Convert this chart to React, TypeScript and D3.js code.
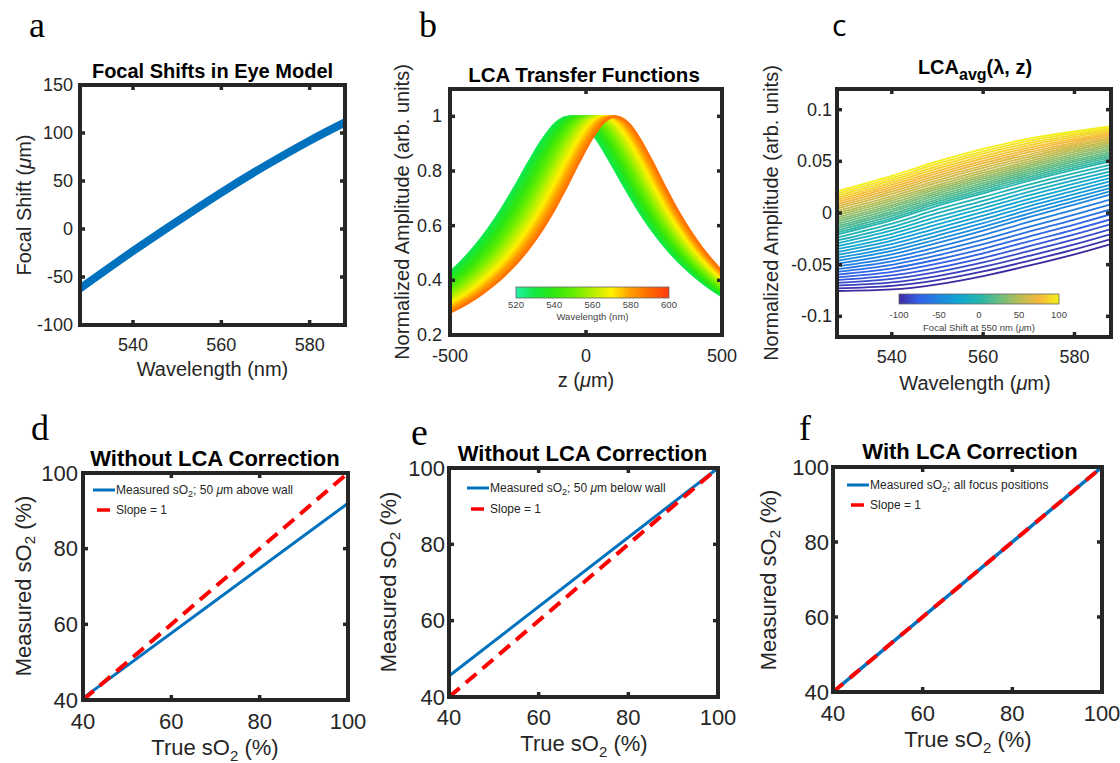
import React from 'react';
import * as d3 from 'd3';

const SANS = "'Liberation Sans', Arial, Helvetica, sans-serif";
const SERIF = "'Liberation Serif', 'Times New Roman', serif";
const INK = '#262626';

// ---------------- data ----------------
// (a) focal shift in eye model
const focalWavelengths = [528, 540, 550, 560, 570, 580, 588];
const focalShifts = [-62, -23, 8, 38, 66, 92, 111];
const aXTicks = [540, 560, 580];
const aYTicks = [-100, -50, 0, 50, 100, 150];

// (b) LCA transfer functions
const bCurveWavelengths = d3.range(528, 589, 1);
const bRefWavelength = 528;
const bProfileDistance = [0, 50, 100, 150, 200, 250, 300, 350, 400, 450, 500, 550, 600, 650, 700, 750, 800];
const bProfileAmplitude = [1, 0.977, 0.915, 0.833, 0.745, 0.661, 0.587, 0.523, 0.468, 0.422, 0.382, 0.348, 0.319, 0.294, 0.272, 0.252, 0.235];
const bXTicks = [-500, 0, 500];
const bYTicks = [0.2, 0.4, 0.6, 0.8, 1];
const bColorStops = [520, 530, 540, 550, 560, 570, 580, 590, 600];
const bColorValues = ['#22f0a8', '#12e840', '#30e610', '#66ee00', '#b4f000', '#fff000', '#ff9c00', '#ff6800', '#ff3a10'];
const bColorbarTicks = [520, 540, 560, 580, 600];

// (c) LCA_avg(lambda, z)
const cWavelengths = [528, 540, 550, 560, 570, 580, 588];
const cKeyShifts = [-100, -50, 0, 50, 100];
const cCurveMinus100 = [-0.0755, -0.074, -0.069, -0.061, -0.051, -0.04, -0.03];
const cCurveMinus50 = [-0.049, -0.04, -0.029, -0.017, -0.004, 0.008, 0.018];
const cCurveZero = [-0.021, -0.007, 0.007, 0.019, 0.031, 0.042, 0.05];
const cCurvePlus50 = [0.0, 0.014, 0.027, 0.039, 0.05, 0.061, 0.068];
const cCurvePlus100 = [0.021, 0.036, 0.05, 0.062, 0.072, 0.079, 0.084];
const cCurveShifts = d3.range(-100, 101, 5);
const cXTicks = [540, 560, 580];
const cYTicks = [-0.1, -0.05, 0, 0.05, 0.1];
const cColorStops = [-100, -75, -50, -25, 0, 25, 50, 75, 100];
const cColorValues = ['#3d2aa0', '#3462e8', '#1f86e0', '#12a7d0', '#26b5ad', '#6abd80', '#b8bd55', '#f5b93c', '#f3f01a'];
const cColorbarTicks = [-100, -50, 0, 50, 100];

// (d,e,f) sO2
const sO2True = [40, 100];
const dMeasured = [40.5, 92];
const eMeasured = [45.5, 100];
const fMeasured = [40, 100];
const slopeOne = [40, 100];
const sTicks = [40, 60, 80, 100];

// ---------------- helpers ----------------
type Box = { x0: number; x1: number; y0: number; y1: number };

function Frame(props: {
  p: Box; xs: any; ys: any; xTicks: number[]; yTicks: number[];
  fs: number; xTickY: number; yGap: number; tickLen: number;
}) {
  const { p, xs, ys, xTicks, yTicks, fs, xTickY, yGap, tickLen } = props;
  return (
    <g>
      {xTicks.map((t) => (
        <g key={'x' + t}>
          <line x1={xs(t)} x2={xs(t)} y1={p.y1} y2={p.y1 - tickLen} stroke={INK} strokeWidth={3.5} />
          <line x1={xs(t)} x2={xs(t)} y1={p.y0} y2={p.y0 + tickLen} stroke={INK} strokeWidth={3.5} />
          <text x={xs(t)} y={xTickY} textAnchor="middle" dominantBaseline="central" fontSize={fs} fill={INK} fontFamily={SANS}>{String(t)}</text>
        </g>
      ))}
      {yTicks.map((t) => (
        <g key={'y' + t}>
          <line x1={p.x0} x2={p.x0 + tickLen} y1={ys(t)} y2={ys(t)} stroke={INK} strokeWidth={3.5} />
          <line x1={p.x1} x2={p.x1 - tickLen} y1={ys(t)} y2={ys(t)} stroke={INK} strokeWidth={3.5} />
          <text x={p.x0 - yGap} y={ys(t)} textAnchor="end" dominantBaseline="central" fontSize={fs} fill={INK} fontFamily={SANS}>{String(t)}</text>
        </g>
      ))}
      <rect x={p.x0} y={p.y0} width={p.x1 - p.x0} height={p.y1 - p.y0} fill="none" stroke={INK} strokeWidth={4} />
    </g>
  );
}

function ClipRect({ id, p }: { id: string; p: Box }) {
  return (
    <clipPath id={id}>
      <rect x={p.x0} y={p.y0} width={p.x1 - p.x0} height={p.y1 - p.y0} />
    </clipPath>
  );
}

// ---------------- layout ----------------
const PA: Box = { x0: 80, x1: 345, y0: 85, y1: 325 };
const PB: Box = { x0: 450, x1: 722, y0: 89, y1: 335 };
const PC: Box = { x0: 837, x1: 1111, y0: 89, y1: 337 };
const PD: Box = { x0: 83, x1: 348, y0: 473, y1: 700 };
const PE: Box = { x0: 449, x1: 718, y0: 468, y1: 697 };
const PF: Box = { x0: 833, x1: 1102, y0: 467, y1: 692 };

export default function App() {
  // ---- a ----
  const aX = d3.scaleLinear().domain([528, 588]).range([PA.x0, PA.x1]);
  const aY = d3.scaleLinear().domain([-100, 150]).range([PA.y1, PA.y0]);
  const aLine = d3.line<number>().x((_, i) => aX(focalWavelengths[i])).y((v) => aY(v)).curve(d3.curveNatural);
  const aPath = aLine(focalShifts) || '';

  // ---- b ----
  const bX = d3.scaleLinear().domain([-500, 500]).range([PB.x0, PB.x1]);
  const bY = d3.scaleLinear().domain([0.2, 1.1]).range([PB.y1, PB.y0]);
  const focalAt = d3.scaleLinear().domain(focalWavelengths).range(focalShifts);
  const bColor = d3.scaleLinear<string>().domain(bColorStops).range(bColorValues).interpolate(d3.interpolateRgb);
  const bLine = d3.line<[number, number]>().x((d) => bX(d[0])).y((d) => bY(d[1])).curve(d3.curveMonotoneX);
  const bPaths = bCurveWavelengths.map((lam) => {
    const peak = focalAt(lam);
    const w = bRefWavelength / lam;
    const pts: [number, number][] = [];
    for (let i = bProfileDistance.length - 1; i > 0; i--) pts.push([peak - bProfileDistance[i] * w, bProfileAmplitude[i]]);
    pts.push([peak, bProfileAmplitude[0]]);
    for (let i = 1; i < bProfileDistance.length; i++) pts.push([peak + bProfileDistance[i] * w, bProfileAmplitude[i]]);
    return { lam, d: bLine(pts) || '', color: bColor(lam) };
  });
  const bCb = { x0: 516, x1: 669, y0: 287, y1: 298 };
  const bCbX = d3.scaleLinear().domain([520, 600]).range([bCb.x0, bCb.x1]);

  // ---- c ----
  const cX = d3.scaleLinear().domain([528, 588]).range([PC.x0, PC.x1]);
  const cY = d3.scaleLinear().domain([-0.12, 0.12]).range([PC.y1, PC.y0]);
  const cKeyCurves = [cCurveMinus100, cCurveMinus50, cCurveZero, cCurvePlus50, cCurvePlus100];
  const cColor = d3.scaleLinear<string>().domain(cColorStops).range(cColorValues).interpolate(d3.interpolateRgb);
  const cLine = d3.line<number>().x((_, i) => cX(cWavelengths[i])).y((v) => cY(v)).curve(d3.curveMonotoneX);
  const cPaths = cCurveShifts.map((s) => {
    let k = 0;
    while (k < cKeyShifts.length - 2 && s > cKeyShifts[k + 1]) k++;
    const t = (s - cKeyShifts[k]) / (cKeyShifts[k + 1] - cKeyShifts[k]);
    const vals = cWavelengths.map((_, i) => cKeyCurves[k][i] * (1 - t) + cKeyCurves[k + 1][i] * t);
    return { s, d: cLine(vals) || '', color: cColor(s) };
  });
  const cCb = { x0: 899, x1: 1059, y0: 294, y1: 304 };
  const cCbX = d3.scaleLinear().domain([-100, 100]).range([cCb.x0, cCb.x1]);

  // ---- d,e,f ----
  const mk = (p: Box) => ({
    x: d3.scaleLinear().domain([40, 100]).range([p.x0, p.x1]),
    y: d3.scaleLinear().domain([40, 100]).range([p.y1, p.y0]),
  });
  const sD = mk(PD), sE = mk(PE), sF = mk(PF);
  const sLine = (sc: any, vals: number[]) =>
    d3.line<number>().x((_, i) => sc.x(sO2True[i])).y((v) => sc.y(v))(vals) || '';

  const muLabel = (before: string, after: string) => (
    <>
      <tspan>{before}</tspan>
      <tspan fontStyle="italic">μ</tspan>
      <tspan>{after}</tspan>
    </>
  );

  const sO2YLabel = (cx: number, cy: number) => (
    <text transform={`translate(${cx},${cy}) rotate(-90)`} textAnchor="middle" dominantBaseline="central" fontSize={22} fill={INK} fontFamily={SANS}>
      Measured sO<tspan dy={6} fontSize={15}>2</tspan><tspan dy={-6}> (%)</tspan>
    </text>
  );
  const sO2XLabel = (cx: number, by: number) => (
    <text x={cx} y={by} textAnchor="middle" fontSize={22} fill={INK} fontFamily={SANS}>
      True sO<tspan dy={6} fontSize={15}>2</tspan><tspan dy={-6}> (%)</tspan>
    </text>
  );

  const legend = (x: number, y1: number, y2: number, desc: string[]) => (
    <g fontFamily={SANS} fontSize={12} fill={INK}>
      <line x1={x} x2={x + 22} y1={y1} y2={y1} stroke="#0072BD" strokeWidth={3} />
      <line x1={x + 4} x2={x + 17} y1={y2} y2={y2} stroke="#FF0000" strokeWidth={3.5} />
      <text x={x + 23} y={y1} dominantBaseline="central">
        Measured sO<tspan dy={3.5} fontSize={9}>2</tspan><tspan dy={-3.5}>{desc[0]}</tspan>
        {desc.length > 1 ? <tspan fontStyle="italic">μ</tspan> : null}
        {desc.length > 1 ? <tspan>{desc[1]}</tspan> : null}
      </text>
      <text x={x + 23} y={y2} dominantBaseline="central">Slope = 1</text>
    </g>
  );

  return (
    <svg width={1120} height={763} style={{ position: 'absolute', left: 0, top: 0, background: '#fff' }} fontFamily={SANS}>
      <defs>
        <ClipRect id="clipA" p={PA} />
        <ClipRect id="clipB" p={PB} />
        <ClipRect id="clipC" p={PC} />
        <ClipRect id="clipD" p={PD} />
        <ClipRect id="clipE" p={PE} />
        <ClipRect id="clipF" p={PF} />
        <linearGradient id="gradB" x1="0" x2="1" y1="0" y2="0">
          {bColorStops.map((s, i) => (
            <stop key={s} offset={(s - 520) / 80} stopColor={bColorValues[i]} />
          ))}
        </linearGradient>
        <linearGradient id="gradC" x1="0" x2="1" y1="0" y2="0">
          {cColorStops.map((s, i) => (
            <stop key={s} offset={(s + 100) / 200} stopColor={cColorValues[i]} />
          ))}
        </linearGradient>
      </defs>
      <rect x={0} y={0} width={1120} height={763} fill="#fff" />

      {/* panel letters */}
      <text x={29} y={37} fontFamily={SERIF} fontSize={36} fill="#000">a</text>
      <text x={419} y={37} fontFamily={SERIF} fontSize={36} fill="#000">b</text>
      <text x={832} y={36} fontFamily="'Open Sans', sans-serif" fontSize={30} fill="#000">c</text>
      <text x={31} y={440} fontFamily={SERIF} fontSize={36} fill="#000">d</text>
      <text x={411} y={445} fontFamily={SERIF} fontSize={38} fill="#000">e</text>
      <text x={799} y={440} fontFamily={SERIF} fontSize={36} fill="#000">f</text>

      {/* ---------- a ---------- */}
      <g clipPath="url(#clipA)">
        <path d={aPath} fill="none" stroke="#0072BD" strokeWidth={8} />
      </g>
      <Frame p={PA} xs={aX} ys={aY} xTicks={aXTicks} yTicks={aYTicks} fs={18} xTickY={345} yGap={7} tickLen={5} />
      <text x={212.5} y={78} textAnchor="middle" fontWeight="bold" fontSize={20} fill="#000">Focal Shifts in Eye Model</text>
      <text x={212.5} y={376} textAnchor="middle" fontSize={20} fill={INK}>Wavelength (nm)</text>
      <text transform={`translate(24,205) rotate(-90)`} textAnchor="middle" dominantBaseline="central" fontSize={20} fill={INK}>
        {muLabel('Focal Shift (', 'm)')}
      </text>

      {/* ---------- b ---------- */}
      <g clipPath="url(#clipB)">
        {bPaths.map((c) => (
          <path key={c.lam} d={c.d} fill="none" stroke={c.color} strokeWidth={1.6} />
        ))}
      </g>
      <rect x={bCb.x0} y={bCb.y0} width={bCb.x1 - bCb.x0} height={bCb.y1 - bCb.y0} fill="url(#gradB)" stroke="#666" strokeWidth={0.8} />
      {bColorbarTicks.map((t) => (
        <text key={t} x={bCbX(t)} y={304.5} textAnchor="middle" dominantBaseline="central" fontSize={9.5} fill="#444">{t}</text>
      ))}
      <text x={(bCb.x0 + bCb.x1) / 2} y={316.5} textAnchor="middle" dominantBaseline="central" fontSize={9.5} fill="#444">Wavelength (nm)</text>
      <Frame p={PB} xs={bX} ys={bY} xTicks={bXTicks} yTicks={bYTicks} fs={18} xTickY={356} yGap={8} tickLen={5} />
      <text x={584} y={82} textAnchor="middle" fontWeight="bold" fontSize={20.5} fill="#000">LCA Transfer Functions</text>
      <text x={586} y={387} textAnchor="middle" fontSize={20} fill={INK}>{muLabel('z (', 'm)')}</text>
      <text transform={`translate(402,212) rotate(-90)`} textAnchor="middle" dominantBaseline="central" fontSize={20} fill={INK}>
        Normalized Amplitude (arb. units)
      </text>

      {/* ---------- c ---------- */}
      <g clipPath="url(#clipC)">
        {cPaths.map((c) => (
          <path key={c.s} d={c.d} fill="none" stroke={c.color} strokeWidth={1.8} />
        ))}
      </g>
      <rect x={cCb.x0} y={cCb.y0} width={cCb.x1 - cCb.x0} height={cCb.y1 - cCb.y0} fill="url(#gradC)" stroke="#666" strokeWidth={0.8} />
      {cColorbarTicks.map((t) => (
        <text key={t} x={cCbX(t)} y={314} textAnchor="middle" dominantBaseline="central" fontSize={9.5} fill="#444">{t}</text>
      ))}
      <text x={(cCb.x0 + cCb.x1) / 2} y={327} textAnchor="middle" dominantBaseline="central" fontSize={9.5} fill="#444">
        {muLabel('Focal Shift at 550 nm (', 'm)')}
      </text>
      <Frame p={PC} xs={cX} ys={cY} xTicks={cXTicks} yTicks={cYTicks} fs={18} xTickY={357} yGap={5} tickLen={5} />
      <text x={975} y={74} textAnchor="middle" fontWeight="bold" fontSize={20} fill="#000">
        LCA<tspan dy={6} fontSize={16}>avg</tspan><tspan dy={-6}>(λ, z)</tspan>
      </text>
      <text x={975} y={390} textAnchor="middle" fontSize={20} fill={INK}>{muLabel('Wavelength (', 'm)')}</text>
      <text transform={`translate(771,213) rotate(-90)`} textAnchor="middle" dominantBaseline="central" fontSize={20} fill={INK}>
        Normalized Amplitude (arb. units)
      </text>

      {/* ---------- d ---------- */}
      <g clipPath="url(#clipD)">
        <path d={sLine(sD, dMeasured)} fill="none" stroke="#0072BD" strokeWidth={3} />
        <path d={sLine(sD, slopeOne)} fill="none" stroke="#FF0000" strokeWidth={4} strokeDasharray="14 8" />
      </g>
      {legend(93, 490, 510, ['; 50 ', 'm above wall'])}
      <Frame p={PD} xs={sD.x} ys={sD.y} xTicks={sTicks} yTicks={sTicks} fs={22} xTickY={721} yGap={5} tickLen={5} />
      <text x={215} y={466} textAnchor="middle" fontWeight="bold" fontSize={22} fill="#000">Without LCA Correction</text>
      {sO2XLabel(215, 755)}
      {sO2YLabel(23, 586)}

      {/* ---------- e ---------- */}
      <g clipPath="url(#clipE)">
        <path d={sLine(sE, eMeasured)} fill="none" stroke="#0072BD" strokeWidth={3} />
        <path d={sLine(sE, slopeOne)} fill="none" stroke="#FF0000" strokeWidth={4} strokeDasharray="14 8" />
      </g>
      {legend(467, 488, 509, ['; 50 ', 'm below wall'])}
      <Frame p={PE} xs={sE.x} ys={sE.y} xTicks={sTicks} yTicks={sTicks} fs={22} xTickY={717} yGap={4} tickLen={5} />
      <text x={582.5} y={461} textAnchor="middle" fontWeight="bold" fontSize={22} fill="#000">Without LCA Correction</text>
      {sO2XLabel(584, 751)}
      {sO2YLabel(388, 582)}

      {/* ---------- f ---------- */}
      <g clipPath="url(#clipF)">
        <path d={sLine(sF, fMeasured)} fill="none" stroke="#0072BD" strokeWidth={3.5} />
        <path d={sLine(sF, slopeOne)} fill="none" stroke="#FF0000" strokeWidth={4} strokeDasharray="13 9" />
      </g>
      {legend(847, 485, 505, ['; all focus positions'])}
      <Frame p={PF} xs={sF.x} ys={sF.y} xTicks={sTicks} yTicks={sTicks} fs={22} xTickY={713} yGap={4} tickLen={5} />
      <text x={970} y={459} textAnchor="middle" fontWeight="bold" fontSize={22} fill="#000">With LCA Correction</text>
      {sO2XLabel(968, 747)}
      {sO2YLabel(768, 580)}
    </svg>
  );
}
